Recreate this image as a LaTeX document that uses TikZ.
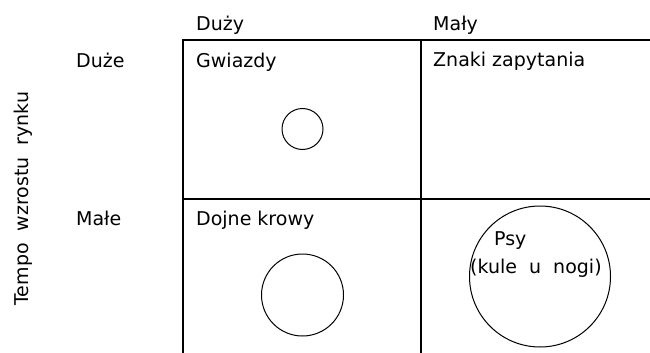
\documentclass[tikz,border=0pt]{standalone}
\usepackage{fontspec}
\setmainfont{DejaVu Sans}
\begin{document}
\begin{tikzpicture}[x=1pt,y=-1pt,
  lbl/.style={anchor=base west, inner sep=0pt, font=\fontsize{19}{23}\selectfont},
  grid/.style={line width=1.2pt, black},
  bubble/.style={circle, draw, line width=1pt, inner sep=0pt}]
\useasboundingbox (0,0) rectangle (650,353);
% grid
\coordinate (tl) at (183,40);
\coordinate (tr) at (650,40);
\coordinate (ml) at (183,199);
\coordinate (mr) at (650,199);
\coordinate (bl) at (183,353);
\coordinate (tm) at (421,40);
\coordinate (bm) at (421,353);
\draw[grid] (tr) -- (tl) -- (bl);
\draw[grid] (ml) -- (mr);
\draw[grid] (tm) -- (bm);
% labels
\node[lbl] (duzy) at (196,31) {Duży};
\node[lbl] (maly) at (433,30.5) {Mały};
\node[lbl] (duze) at (76,67.5) {Duże};
\node[lbl] (male) at (76,225) {Małe};
\node[lbl] (gw) at (196,67.5) {Gwiazdy};
\node[lbl] (zn) at (433,66.5) {Znaki\ zapytania};
\node[lbl] (dk) at (196,225) {Dojne\ krowy};
\node[anchor=base, inner sep=0pt, rotate=90, font=\fontsize{19}{23}\selectfont] (axis) at (28,198.5) {Tempo\ \ wzrostu\ \ rynku};
% bubbles
\node[bubble, minimum size=41pt] (c1) at (302.5,129) {};
\node[bubble, minimum size=82pt] (c2) at (302.5,295) {};
\node[bubble, minimum size=141pt] (c3) at (540,276.5) {};
\node[lbl] (psy) at (494,245) {Psy};
\node[lbl] (kule) at (470,273) {(kule\ \ u\ \ nogi)};
\end{tikzpicture}
\end{document}
